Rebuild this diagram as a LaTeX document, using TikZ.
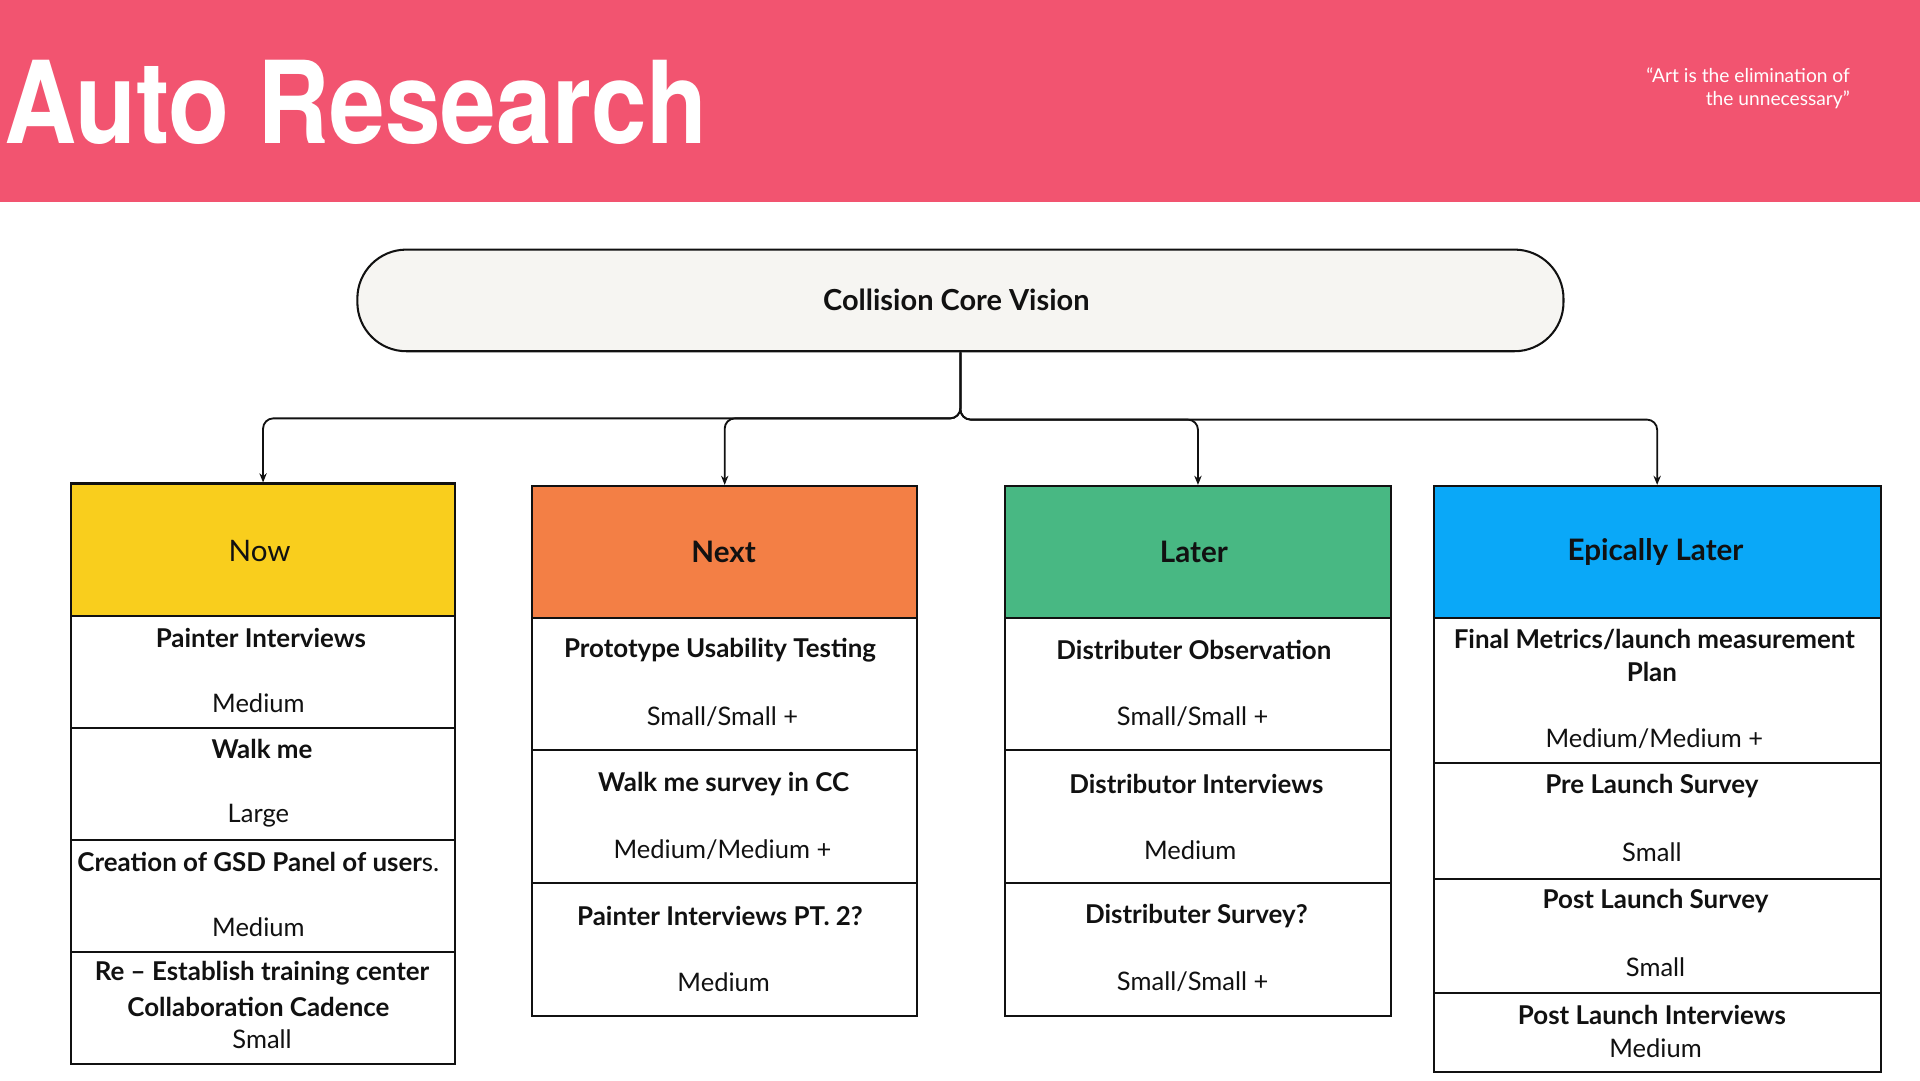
\documentclass[tikz,border=0pt]{standalone}
\usepackage{fontspec}
\setmainfont{Lato}
\newfontfamily\titlefont{TeX Gyre Heros}
\usetikzlibrary{arrows.meta}
\definecolor{bandcol}{HTML}{F25470}
\definecolor{nowcol}{HTML}{F9CE1D}
\definecolor{nextcol}{HTML}{F37F45}
\definecolor{latercol}{HTML}{48B883}
\definecolor{epiccol}{HTML}{0AA8F8}
\definecolor{viscol}{HTML}{F6F5F2}
\definecolor{inkcol}{HTML}{111111}
\begin{document}
\begin{tikzpicture}[x=0.6pt,y=-0.6pt,
  cell/.style 2 args={draw=inkcol, line width=1pt, inner sep=0pt, anchor=north west,
    minimum width=#1*0.6pt, minimum height=#2*0.6pt},
  headtxt/.style={font=\fontsize{14.5}{17}\selectfont, text=inkcol},
  itemtxt/.style={font=\fontsize{12.7}{14}\selectfont\bfseries, text=inkcol, inner sep=0pt, align=center},
  sizetxt/.style={font=\fontsize{12.5}{14}\selectfont, text=inkcol, inner sep=0pt},
  conn/.style={draw=inkcol, line width=0.9pt, rounded corners=5pt, -{Stealth[length=4.5pt,width=3.6pt]}}
]
\useasboundingbox (0,0) rectangle (1568,882);
\fill[white] (0,0) rectangle (1568,882);
% header band
\fill[bandcol] (0,0) rectangle (1568,165);
\node[anchor=base west, inner sep=0pt, text=white, xscale=0.875,
  font=\titlefont\bfseries\fontsize{56}{60}\selectfont] (title) at (3,117) {Auto Research};
\node[anchor=east, inner sep=0pt, text=white, align=right,
  font=\fontsize{9.4}{11.4}\selectfont] (quote) at (1511,72) {“Art is the elimination of\\the unnecessary”};

% vision
\node[draw=inkcol, line width=1pt, fill=viscol, rounded corners=24pt, anchor=north west,
  minimum width=985*0.6pt, minimum height=83*0.6pt, inner sep=0pt] (vis) at (291,203) {};
\node[font=\fontsize{14.2}{17}\selectfont\bfseries, text=inkcol] (vistxt) at (781,245) {Collision Core Vision};

% Now column
\node[cell={314}{108}, fill=nowcol] (now) at (57,394) {};
\node[headtxt] (nowt) at (212,450) {Now};
\node[cell={314}{92}] (now1) at (57,502) {};
\node[cell={314}{91}] (now2) at (57,594) {};
\node[cell={314}{92}] (now3) at (57,685) {};
\node[cell={314}{91}] (now4) at (57,777) {};
\node[itemtxt] (now1a) at (213,521) {Painter Interviews};
\node[sizetxt] (now1b) at (211,574) {Medium};
\node[itemtxt] (now2a) at (214,612) {Walk me};
\node[sizetxt] (now2b) at (211,666) {Large};
\node[itemtxt] (now3a) at (211,704) {Creation of GSD Panel of user\mdseries s.};
\node[sizetxt] (now3b) at (211,757) {Medium};
\node[itemtxt] (now4a) at (214,795) {Re – Establish training center};
\node[itemtxt] (now4c) at (211,822) {Collaboration Cadence};
\node[sizetxt] (now4b) at (214,849) {Small};

% Next column
\node[cell={314}{108}, fill=nextcol] (next) at (434,396) {};
\node[headtxt, font=\fontsize{14.5}{17}\selectfont\bfseries] (nextt) at (591,451) {Next};
\node[cell={314}{108}] (next1) at (434,504) {};
\node[cell={314}{108}] (next2) at (434,612) {};
\node[cell={314}{109}] (next3) at (434,720) {};
\node[itemtxt] (next1a) at (588,531) {Prototype Usability Testing};
\node[sizetxt] (next1b) at (590,585) {Small/Small +};
\node[itemtxt] (next2a) at (591,640) {Walk me survey in CC};
\node[sizetxt] (next2b) at (590,694) {Medium/Medium +};
\node[itemtxt] (next3a) at (588,748) {Painter Interviews PT. 2?};
\node[sizetxt] (next3b) at (591,802) {Medium};

% Later column
\node[cell={315}{108}, fill=latercol] (later) at (820,396) {};
\node[headtxt, font=\fontsize{14.5}{17}\selectfont\bfseries] (latert) at (975,451) {Later};
\node[cell={315}{108}] (later1) at (820,504) {};
\node[cell={315}{108}] (later2) at (820,612) {};
\node[cell={315}{109}] (later3) at (820,720) {};
\node[itemtxt] (later1a) at (975,531) {Distributer Observation};
\node[sizetxt] (later1b) at (974,585) {Small/Small +};
\node[itemtxt] (later2a) at (977,640) {Distributor Interviews};
\node[sizetxt] (later2b) at (972,694) {Medium};
\node[itemtxt] (later3a) at (977,748) {Distributer Survey?};
\node[sizetxt] (later3b) at (974,802) {Small/Small +};

% Epically later column
\node[cell={365}{108}, fill=epiccol] (epic) at (1170,396) {};
\node[headtxt, font=\fontsize{14.5}{17}\selectfont\bfseries] (epict) at (1352,451) {Epically Later};
\node[cell={365}{118}] (epic1) at (1170,504) {};
\node[cell={365}{95}] (epic2) at (1170,622) {};
\node[cell={365}{93}] (epic3) at (1170,717) {};
\node[cell={365}{65}] (epic4) at (1170,810) {};
\node[itemtxt] (epic1a) at (1351,522) {Final Metrics/launch measurement};
\node[itemtxt] (epic1c) at (1349,549) {Plan};
\node[sizetxt] (epic1b) at (1351,603) {Medium/Medium +};
\node[itemtxt] (epic2a) at (1349,642) {Pre Launch Survey};
\node[sizetxt] (epic2b) at (1349,696) {Small};
\node[itemtxt] (epic3a) at (1352,736) {Post Launch Survey};
\node[sizetxt] (epic3b) at (1352,790) {Small};
\node[itemtxt] (epic4a) at (1349,829) {Post Launch Interviews};
\node[sizetxt] (epic4b) at (1352,856) {Medium};

% connectors
\draw[conn] (vis.south) -- ++(0,54) -| (now.north);
\draw[conn] (vis.south) -- ++(0,54) -| (next.north);
\draw[conn] (vis.south) -- ++(0,55) -| (later.north);
\draw[conn] (vis.south) -- ++(0,55) -| (epic.north);
\end{tikzpicture}
\end{document}
